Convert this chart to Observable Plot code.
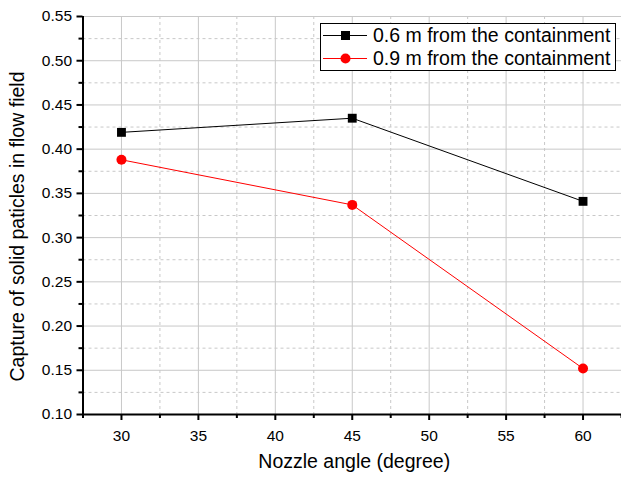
<!DOCTYPE html>
<html><head><meta charset="utf-8">
<script src="https://cdn.jsdelivr.net/npm/d3@7"></script>
<script src="https://cdn.jsdelivr.net/npm/@observablehq/plot@0.6"></script>
<style>
body{margin:0;background:#fff;font-family:"Liberation Sans",Arial,sans-serif;}
#wrap{position:relative;width:621px;height:479px;}
#legend{position:absolute;left:320px;top:23px;width:296px;height:48px;border:1px solid #000;background:#fff;font-size:19.5px;box-sizing:border-box;white-space:nowrap;}
#legend .row{display:flex;align-items:center;height:23px;}
#legend svg{margin-left:2px;margin-right:6px;flex:none;}
</style></head>
<body><div id="wrap"><div id="legend"></div></div>
<script>
const angles = [30, 45, 60];
const series06 = [0.419, 0.435, 0.341];
const series09 = [0.388, 0.337, 0.152];
const seriesNames = ["0.6 m from the containment", "0.9 m from the containment"];
const colors = ["#000000", "#ff0000"];
const xMajor = [30, 35, 40, 45, 50, 55, 60];
const xMinor = [27.5, 32.5, 37.5, 42.5, 47.5, 52.5, 57.5, 62.5];
const yMajor = [0.10, 0.15, 0.20, 0.25, 0.30, 0.35, 0.40, 0.45, 0.50, 0.55];
const yMinor = [0.125, 0.175, 0.225, 0.275, 0.325, 0.375, 0.425, 0.475, 0.525];

const d06 = angles.map((a, i) => ({x: a, y: series06[i]}));
const d09 = angles.map((a, i) => ({x: a, y: series09[i]}));

const font = "Liberation Sans, Arial, sans-serif";
const chart = Plot.plot({
  width: 621, height: 479,
  marginLeft: 82.5, marginTop: 16, marginBottom: 65, marginRight: 0,
  style: {fontFamily: font, fontSize: "15.5px", color: "#000", background: "#fff"},
  x: {domain: [27.5, 62.5]},
  y: {domain: [0.10, 0.55]},
  marks: [
    Plot.ruleY(yMinor, {stroke: "#c8c8c8", strokeDasharray: "3,3"}),
    Plot.ruleX(xMinor.slice(1, -1), {stroke: "#c8c8c8", strokeDasharray: "3,3"}),
    Plot.ruleY(yMajor.slice(1), {stroke: "#c8c8c8"}),
    Plot.ruleX(xMajor, {stroke: "#c8c8c8"}),
    Plot.axisY({ticks: yMajor, tickFormat: d3.format(".2f"), tickSize: 6, tickPadding: 5, strokeWidth: 2, label: null}),
    Plot.axisY({ticks: yMinor, tickFormat: () => "", tickSize: 4, strokeWidth: 2, label: null}),
    Plot.axisX({ticks: xMajor, tickSize: 6, tickPadding: 9, strokeWidth: 2, label: null}),
    Plot.axisX({ticks: xMinor, tickFormat: () => "", tickSize: 4, strokeWidth: 2, label: null}),
    Plot.ruleX([27.5], {stroke: "#000", strokeWidth: 2}),
    Plot.ruleY([0.10], {stroke: "#000", strokeWidth: 2}),
    Plot.line(d06, {x: "x", y: "y", stroke: colors[0], strokeWidth: 1}),
    Plot.line(d09, {x: "x", y: "y", stroke: colors[1], strokeWidth: 1}),
    Plot.dot(d06, {x: "x", y: "y", symbol: "square", fill: colors[0], r: 5}),
    Plot.dot(d09, {x: "x", y: "y", symbol: "circle", fill: colors[1], r: 5}),
    Plot.text(["Nozzle angle (degree)"], {frameAnchor: "bottom", dx: 2, dy: 53, fontSize: 19.5}),
    Plot.text(["Capture of solid paticles in flow field"], {frameAnchor: "left", textAnchor: "middle", dx: -65, dy: 11, rotate: -90, fontSize: 19.5})
  ]
});
document.getElementById("wrap").prepend(chart);
chart.style.position = "absolute"; chart.style.left = "0"; chart.style.top = "0";

const legend = document.getElementById("legend");
seriesNames.forEach((name, i) => {
  const row = document.createElement("div");
  row.className = "row";
  const marker = i === 0
    ? `<rect x="18" y="5" width="9" height="9" fill="${colors[i]}"/>`
    : `<circle cx="22.5" cy="9.5" r="5" fill="${colors[i]}"/>`;
  row.innerHTML = `<svg width="44" height="19"><line x1="0" x2="44" y1="9.5" y2="9.5" stroke="${colors[i]}" stroke-width="1"/>${marker}</svg><span>${name}</span>`;
  legend.appendChild(row);
});
</script></body></html>
